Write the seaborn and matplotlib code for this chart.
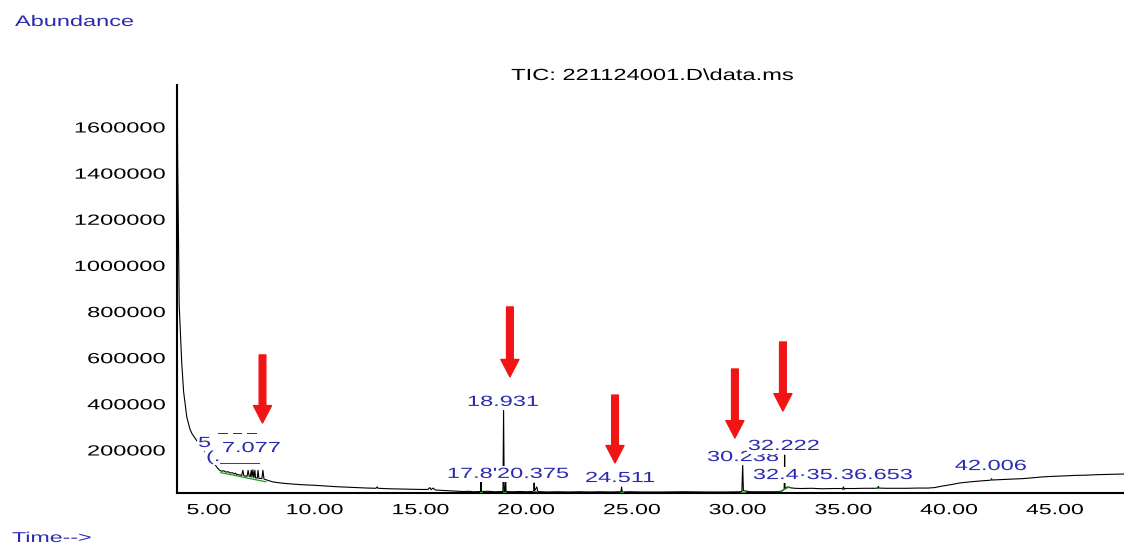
import matplotlib
matplotlib.use("Agg")
import matplotlib.pyplot as plt
import pandas as pd
import seaborn as sns
from matplotlib.patheffects import AbstractPathEffect
from matplotlib.transforms import Affine2D
from matplotlib.patches import ArrowStyle
from matplotlib.ticker import MultipleLocator, FixedLocator, FuncFormatter

# ---- total ion chromatogram: retention time (min) / abundance ----
rt_min = [3.50, 3.52, 3.59, 3.71, 3.80, 3.95, 4.10, 4.20, 4.50, 4.80, 5.10, 5.40,
          5.50, 5.60, 5.70, 5.80, 5.90, 6.00, 6.10, 6.20, 6.25, 6.30, 6.45, 6.55,
          6.60, 6.65, 6.80, 6.85, 6.90, 6.95, 7.00, 7.03, 7.077, 7.12, 7.17, 7.20,
          7.28, 7.32, 7.36, 7.50, 7.55, 7.60, 7.80, 8.00, 8.30, 8.60, 9.00, 9.50,
          10.0, 10.5, 11.0, 11.5, 12.0, 12.5, 12.9, 12.95, 13.0, 13.5, 14.0, 14.5,
          15.0, 15.35, 15.45, 15.5, 15.6, 15.7, 15.8, 16.2, 16.6, 17.0, 17.3, 17.5,
          17.84, 17.862, 17.88, 18.2, 18.5, 18.90, 18.931, 18.96, 19.0, 19.03, 19.05,
          19.3, 19.7, 20.0, 20.35, 20.375, 20.40, 20.5, 20.55, 20.7, 21.0, 21.5,
          22.0, 22.5, 23.0, 23.5, 24.0, 24.48, 24.511, 24.54, 24.9, 25.5, 26.5,
          27.5, 28.5, 29.5, 30.20, 30.238, 30.27, 30.6, 31.0, 31.5, 31.9, 32.1,
          32.20, 32.222, 32.24, 32.35, 32.5, 32.7, 33.0, 33.5, 34.0, 34.5, 34.97,
          35.0, 35.03, 35.5, 36.0, 36.5, 36.63, 36.653, 36.68, 37.0, 37.5, 38.0,
          38.5, 39.0, 39.3, 39.7, 40.1, 40.5, 41.0, 41.5, 41.97, 42.006, 42.04,
          42.5, 43.0, 43.5, 44.0, 44.5, 45.0, 45.5, 46.0, 46.5, 47.0, 47.5, 48.3]
abundance = [1782000, 1449000, 829000, 578000, 452000, 343000, 290000, 270000,
             230000, 195000, 160000, 122000,
             112000, 108000, 110000, 104000, 106000, 100000, 102000, 96000, 100000,
             94000, 92000, 90000,
             112000, 88000, 86000, 112000, 86000, 84000, 112000, 82000, 114000,
             80000, 112000, 79000,
             78000, 112000, 77000, 76000, 112000, 74000, 68000, 62000, 58000, 55000,
             52000, 49000,
             47000, 44000, 41000, 39000, 37000, 35000, 34000, 40000, 34000, 32000,
             31000, 30000,
             29000, 29000, 37000, 28000, 35000, 27000, 26000, 24000, 22000, 20000,
             21000, 19000,
             20000, 62000, 20000, 21000, 19000, 20000, 373000, 20000, 21000, 60000,
             20000,
             19000, 20000, 19000, 20000, 57000, 24000, 40000, 20000, 19000, 18000,
             19000,
             18000, 19000, 18000, 19000, 18000, 19000, 40000, 18000, 19000, 18000,
             18000,
             19000, 18000, 18000, 19000, 140000, 24000, 19000, 19000, 19000, 19000,
             22000,
             30000, 178000, 32000, 40000, 36000, 34000, 33000, 34000, 32000, 33000,
             33000,
             40000, 33000, 33000, 34000, 34000, 35000, 42000, 35000, 34000, 34000,
             34000,
             35000, 35000, 37000, 44000, 50000, 57000, 62000, 66000, 69000, 76000,
             70000,
             72000, 74000, 76000, 80000, 84000, 86000, 88000, 90000, 91000, 93000,
             94000, 96000]

# integration baselines drawn under the integrated peaks
base_t0 = [5.55, 17.80, 18.88, 20.30, 24.45, 30.15, 32.00, 34.95, 36.60, 41.95]
base_t1 = [7.70, 17.92, 19.06, 20.50, 24.60, 30.35, 32.45, 35.05, 36.70, 42.06]
base_a0 = [102000, 20000, 20000, 22000, 19000, 19000, 20000, 33000, 34000, 69000]
base_a1 = [62000, 20000, 20000, 22000, 19000, 19000, 40000, 33000, 34000, 70000]

# peak annotations as printed by the data system
label_text = ["5", "(.___", "7.077", "18.931", "17.8'", "20.375", "24.511",
              "30.238", "32.222", "32.4\u00b735.", "36.653", "42.006"]
label_rt = [4.48, 4.86, 5.61, 17.20, 16.25, 18.62, 22.78,
            28.55, 30.48, 30.72, 34.88, 40.27]
label_ab = [213000, 152000, 191000, 391000, 79000, 79000, 61000,
            152000, 200000, 74000, 74000, 113000]
dash_text = "\u203e \u203e \u203e"
dash_rt, dash_ab = 5.47, 224000

# marked peaks (arrow position, arrow start, arrow tip)
arrow_rt = [7.53, 19.23, 24.20, 29.87, 32.14]
arrow_from = [612000, 820000, 438000, 551000, 668000]
arrow_to = [317000, 517000, 144000, 252000, 369000]

x_major = [5, 10, 15, 20, 25, 30, 35, 40, 45]
y_major = [200000, 400000, 600000, 800000, 1000000, 1200000, 1400000, 1600000]

TEXT_BLUE = "#2a2ab0"
FS = 10.6
WIDE = 1.6


class Widen(AbstractPathEffect):
    """Draw glyph outlines stretched horizontally about an anchor."""

    def __init__(self, sx, anchor="center"):
        super().__init__()
        self.sx = sx
        self.anchor = anchor

    def draw_path(self, renderer, gc, tpath, affine, rgbFace=None):
        xs = tpath.vertices[:, 0]
        if len(xs) == 0:
            return
        if self.anchor == "left":
            x0 = xs.min()
        elif self.anchor == "right":
            x0 = xs.max()
        else:
            x0 = 0.5 * (xs.min() + xs.max())
        stretch = Affine2D().translate(-x0, 0).scale(self.sx, 1.0).translate(x0, 0)
        renderer.draw_path(gc, tpath, stretch + affine, rgbFace)


sns.set_style("white")
plt.rcParams["font.family"] = ["Liberation Sans", "DejaVu Sans"]

fig = plt.figure(figsize=(11.24, 5.44), dpi=100)
ax = fig.add_axes([177 / 1124, 51 / 544, 1 - 177 / 1124, 408 / 544])

sns.lineplot(x=rt_min, y=abundance, sort=False, estimator=None, color="black",
             linewidth=0.8, ax=ax, zorder=2)

segs = []
for i, (t0, t1, a0, a1) in enumerate(zip(base_t0, base_t1, base_a0, base_a1)):
    segs.append({"seg": i, "t": t0, "a": a0})
    segs.append({"seg": i, "t": t1, "a": a1})
base_df = pd.DataFrame(segs)
sns.lineplot(data=base_df, x="t", y="a", units="seg", estimator=None, sort=False,
             color="#1e9e1e", linewidth=0.9, ax=ax, legend=False, zorder=3)

ax.set_xlim(3.487, 48.27)
ax.set_ylim(13600, 1782000)
ax.set_xlabel("")
ax.set_ylabel("")

for side in ("top", "right"):
    ax.spines[side].set_visible(False)
for side in ("left", "bottom"):
    ax.spines[side].set_color("black")
    ax.spines[side].set_linewidth(1.5)

ax.xaxis.set_major_locator(FixedLocator(x_major))
ax.xaxis.set_minor_locator(MultipleLocator(1))
ax.yaxis.set_major_locator(FixedLocator(y_major))
ax.yaxis.set_minor_locator(MultipleLocator(40000))
ax.xaxis.set_major_formatter(FuncFormatter(lambda v, p: f"{v:.2f}"))
ax.yaxis.set_major_formatter(FuncFormatter(lambda v, p: f"{int(round(v))}"))
ax.tick_params(which="major", direction="out", length=4.5, width=1.0,
               color="black", labelsize=FS, labelcolor="black")
ax.tick_params(which="minor", direction="out", length=2.4, width=1.0, color="black")
ax.tick_params(axis="x", which="major", pad=2.8)
ax.tick_params(axis="y", which="major", pad=3.2)

# peak labels with opaque background
for txt, t, a in zip(label_text, label_rt, label_ab):
    lab = ax.text(t, a, txt, ha="left", va="baseline", fontsize=FS, color=TEXT_BLUE,
                  zorder=5,
                  bbox=dict(facecolor="white", edgecolor="none",
                            boxstyle="square,pad=0.08"))
    lab.set_path_effects([Widen(WIDE, "left")])
    lab.get_bbox_patch().set_path_effects([Widen(WIDE, "left")])

dash = ax.text(dash_rt, dash_ab, dash_text, ha="left", va="baseline", fontsize=FS,
               color=TEXT_BLUE, zorder=6)
dash.set_path_effects([Widen(WIDE, "left")])

arrow_style = ArrowStyle.Simple(head_length=12.5, head_width=13.0, tail_width=4.8)
for t, a0, a1 in zip(arrow_rt, arrow_from, arrow_to):
    ax.annotate("", xy=(t, a1), xytext=(t, a0),
                arrowprops=dict(arrowstyle=arrow_style, color="#f01414",
                                shrinkA=0, shrinkB=0, mutation_scale=1),
                zorder=7)

title = fig.text(652.5 / 1124, 1 - 80 / 544, "TIC: 221124001.D\\data.ms",
                 ha="center", va="baseline", fontsize=11.6, color="black")
title.set_path_effects([Widen(1.47, "center")])

ylab = fig.text(15 / 1124, 1 - 26 / 544, "Abundance", ha="left", va="baseline",
                fontsize=11.0, color=TEXT_BLUE)
ylab.set_path_effects([Widen(1.54, "left")])

xlab = fig.text(12 / 1124, 1 - 542 / 544, "Time-->", ha="left", va="baseline",
                fontsize=10.3, color=TEXT_BLUE)
xlab.set_path_effects([Widen(1.62, "left")])

fig.canvas.draw()
for lab in ax.get_xticklabels():
    lab.set_path_effects([Widen(1.57, "center")])
for lab in ax.get_yticklabels():
    lab.set_path_effects([Widen(WIDE, "right")])

fig.savefig("out.png", dpi=100, facecolor="white")
